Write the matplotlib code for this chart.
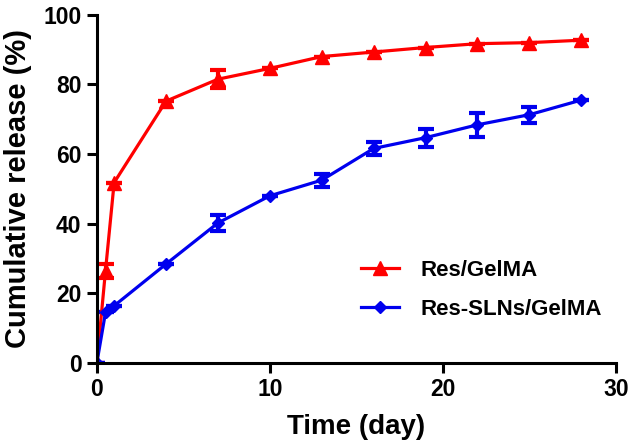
import numpy as np
import matplotlib.pyplot as plt

plt.rcParams['font.family'] = ['Liberation Sans', 'DejaVu Sans']
plt.rcParams['font.weight'] = 'bold'

# release data
days = [0, 0.5, 1, 4, 7, 10, 13, 16, 19, 22, 25, 28]
res_gel = [0, 26.5, 51.8, 75.2, 81.5, 84.6, 88.0, 89.3, 90.6, 91.7, 92.0, 92.7]
res_gel_err = [0, 2.0, 0, 0, 2.5, 0, 0, 0, 0, 0, 0, 0]
sln_gel = [0, 14.5, 16.4, 28.4, 40.2, 48.0, 52.5, 61.6, 64.7, 68.4, 71.3, 75.5]
sln_gel_err = [0, 0, 0, 0, 2.2, 0, 1.9, 1.9, 2.6, 3.4, 2.3, 0]

fig = plt.figure(figsize=(6.33, 4.48), dpi=100)
ax = fig.add_axes([0.153, 0.190, 0.820, 0.777])

ax.errorbar(days, res_gel, yerr=res_gel_err, color='#ff0000', marker='^', ms=10,
            lw=2.3, capsize=6, capthick=3, elinewidth=3, label='Res/GelMA')
ax.errorbar(days, sln_gel, yerr=sln_gel_err, color='#0000ee', marker='D', ms=6.5,
            lw=2.3, capsize=6, capthick=3, elinewidth=3, label='Res-SLNs/GelMA')

ax.set_xlim(0, 30)
ax.set_ylim(0, 100)
ax.set_xticks([0, 10, 20, 30])
ax.set_yticks([0, 20, 40, 60, 80, 100])
for s in ['top', 'right']:
    ax.spines[s].set_visible(False)
for s in ['left', 'bottom']:
    ax.spines[s].set_linewidth(2.2)
ax.tick_params(width=2.2, length=7, labelsize=16.5, pad=4)
for lab in ax.get_xticklabels() + ax.get_yticklabels():
    lab.set_fontweight('bold')

ax.set_xlabel('Time (day)', fontsize=20, fontweight='bold', labelpad=9)
ax.set_ylabel('Cumulative release (%)', fontsize=21, fontweight='bold', labelpad=8)

# legend without error bars
h, l = ax.get_legend_handles_labels()
h = [x[0] for x in h]
ax.legend(h, l, loc='center left', bbox_to_anchor=(0.47, 0.21), frameon=False,
          handlelength=1.7, handletextpad=1.0, labelspacing=0.8,
          prop={'weight': 'bold', 'size': 16})

fig.savefig('out.png', dpi=100)
